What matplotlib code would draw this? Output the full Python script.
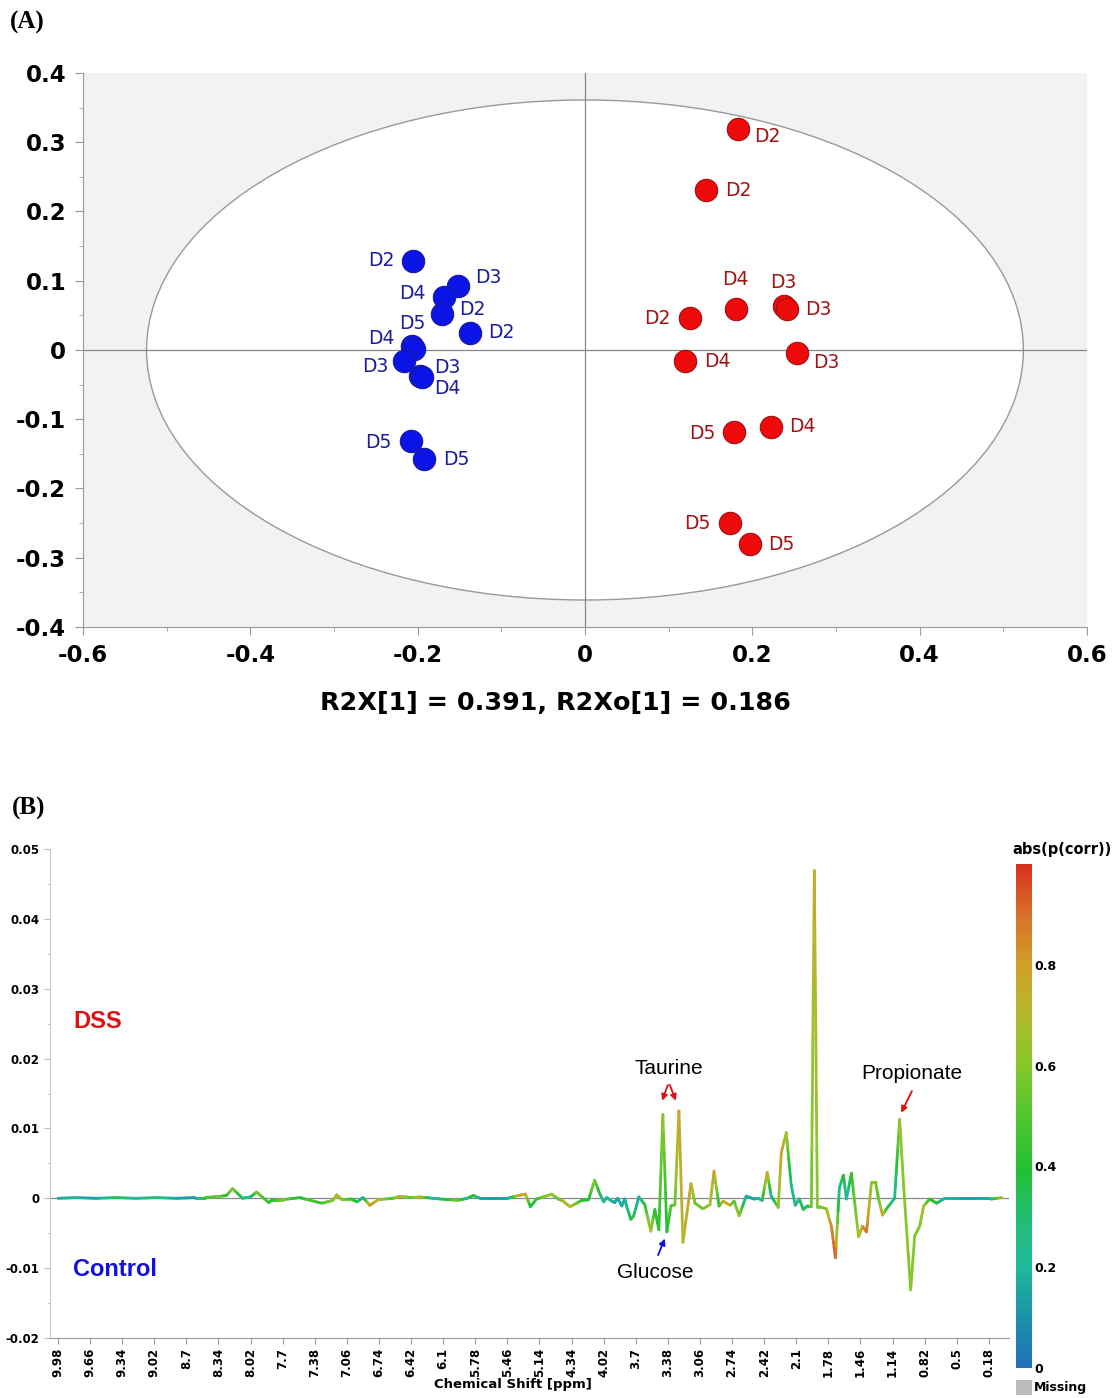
import numpy as np
import matplotlib
matplotlib.use('Agg')
import matplotlib.pyplot as plt
from matplotlib.patches import Ellipse, Rectangle
from matplotlib.collections import LineCollection
from matplotlib.colors import LinearSegmentedColormap, Normalize
from matplotlib.cm import ScalarMappable
from matplotlib.ticker import FuncFormatter, MultipleLocator

# =============================================================================
# (A) OPLS-DA score plot
# =============================================================================
ctrl_t1 = [-0.205, -0.152, -0.169, -0.171, -0.138, -0.207, -0.204, -0.216, -0.197, -0.195, -0.208, -0.192]
ctrl_to = [0.129, 0.092, 0.077, 0.052, 0.025, 0.006, 0.002, -0.016, -0.037, -0.039, -0.132, -0.158]
ctrl_lab = ['D2', 'D3', 'D4', 'D2', 'D2', 'D5', 'D4', 'D3', 'D3', 'D4', 'D5', 'D5']
ctrl_lab_xy = [(-0.243, 0.129), (-0.115, 0.104), (-0.206, 0.082), (-0.135, 0.059),
               (-0.100, 0.025), (-0.206, 0.038), (-0.243, 0.017), (-0.251, -0.024),
               (-0.165, -0.026), (-0.165, -0.056), (-0.247, -0.133), (-0.154, -0.158)]

dss_t1 = [0.183, 0.145, 0.126, 0.180, 0.238, 0.242, 0.119, 0.253, 0.222, 0.178, 0.173, 0.197]
dss_to = [0.319, 0.231, 0.046, 0.059, 0.064, 0.059, -0.016, -0.005, -0.111, -0.119, -0.250, -0.280]
dss_lab = ['D2', 'D2', 'D2', 'D4', 'D3', 'D3', 'D4', 'D3', 'D4', 'D5', 'D5', 'D5']
dss_lab_xy = [(0.218, 0.308), (0.183, 0.230), (0.086, 0.045), (0.180, 0.102),
              (0.237, 0.097), (0.279, 0.059), (0.158, -0.017), (0.289, -0.018),
              (0.260, -0.111), (0.140, -0.120), (0.134, -0.251), (0.235, -0.281)]

ellipse_a, ellipse_b = 0.524, 0.361
r2x_text = 'R2X[1] = 0.391, R2Xo[1] = 0.186'

# =============================================================================
# (B) S-line loading plot
# =============================================================================
tick_ppm = np.array([9.98, 9.66, 9.34, 9.02, 8.7, 8.34, 8.02, 7.7, 7.38, 7.06, 6.74, 6.42,
                     6.1, 5.78, 5.46, 5.14, 4.34, 4.02, 3.7, 3.38, 3.06, 2.74, 2.42, 2.1,
                     1.78, 1.46, 1.14, 0.82, 0.5, 0.18])
tick_labels = ['9.98', '9.66', '9.34', '9.02', '8.7', '8.34', '8.02', '7.7', '7.38', '7.06',
               '6.74', '6.42', '6.1', '5.78', '5.46', '5.14', '4.34', '4.02', '3.7', '3.38',
               '3.06', '2.74', '2.42', '2.1', '1.78', '1.46', '1.14', '0.82', '0.5', '0.18']

ppm = [9.98, 9.80, 9.60, 9.40, 9.20, 9.00, 8.80, 8.60, 8.49, 8.32, 8.26, 8.20, 8.10, 8.02,
       7.96, 7.84, 7.80, 7.70, 7.53, 7.45, 7.31, 7.20, 7.16, 7.11, 7.02, 6.96, 6.90, 6.83,
       6.75, 6.60, 6.53, 6.42, 6.33, 6.20, 6.13, 5.96, 5.86, 5.80, 5.73, 5.60, 5.46, 5.43,
       5.35, 5.28, 5.23, 5.17, 5.04, 4.84, 4.67, 4.55, 4.38, 4.29, 4.24, 4.17, 4.11, 4.06,
       4.02, 3.99, 3.94, 3.91, 3.88, 3.84, 3.81, 3.79, 3.75, 3.72, 3.67, 3.61, 3.55, 3.51,
       3.47, 3.43, 3.39, 3.35, 3.31, 3.27, 3.23, 3.15, 3.11, 3.03, 2.96, 2.92, 2.87, 2.83,
       2.76, 2.72, 2.67, 2.60, 2.52, 2.48, 2.44, 2.39, 2.35, 2.28, 2.25, 2.20, 2.15, 2.11,
       2.07, 2.03, 1.99, 1.95, 1.92, 1.89, 1.87, 1.80, 1.75, 1.71, 1.67, 1.63, 1.60, 1.55,
       1.48, 1.44, 1.40, 1.35, 1.31, 1.28, 1.24, 1.20, 1.12, 1.07, 1.03, 0.96, 0.92, 0.87,
       0.83, 0.77, 0.70, 0.62, 0.40, 0.20, 0.15, 0.05]
loading = [0.0, 0.0001, 0.0, 0.0001, 0.0, 0.0001, 0.0, 0.0001, 0.0001, 0.0003, 0.0004, 0.0014,
           0.0, 0.0002, 0.0009, -0.0006, -0.0002, -0.0002, 0.0001, -0.0002, -0.0007, -0.0003,
           0.0005, -0.0002, -0.0001, -0.0005, 0.0001, -0.0010, -0.0002, 0.0, 0.0003, 0.0001,
           0.0002, 0.0, -0.0001, -0.0003, 0.0, 0.0004, 0.0, 0.0, 0.0, 0.0001,
           0.0004, 0.0006, -0.0012, -0.0001, 0.0002, 0.0006, -0.0001, -0.0004, -0.0012, -0.0007,
           -0.0003, -0.0002, 0.0026, 0.0007, -0.0005, 0.0001, -0.0004, -0.0006, 0.0, -0.0011,
           -0.0001, -0.0012, -0.0030, -0.0025, 0.0002, -0.0009, -0.0047, -0.0016, -0.0045, 0.0120,
           -0.0048, -0.0011, -0.0009, 0.0125, -0.0063, 0.0021, -0.0007, -0.0015, -0.0009, 0.0039,
           -0.0011, -0.0004, -0.0010, -0.0004, -0.0025, 0.0003, -0.0001, 0.0, -0.0003, 0.0037,
           0.0003, -0.0013, 0.0065, 0.0094, 0.0018, -0.0010, -0.0001, -0.0016, -0.0011, -0.0012,
           0.0469, -0.0012, -0.0012, -0.0015, -0.0040, -0.0085, 0.0015, 0.0033, -0.0001, 0.0036,
           -0.0055, -0.0040, -0.0048, 0.0023, 0.0023, -0.0001, -0.0024, -0.0015, 0.0, 0.0113,
           0.0018, -0.0131, -0.0054, -0.0040, -0.0011, -0.0001, -0.0007, 0.0, 0.0, 0.0,
           -0.0001, 0.0001]
pcorr = [0.15, 0.2, 0.12, 0.35, 0.2, 0.3, 0.15, 0.12, 0.45, 0.55, 0.4, 0.62, 0.3, 0.2,
         0.55, 0.45, 0.4, 0.6, 0.35, 0.5, 0.45, 0.6, 0.7, 0.6, 0.45, 0.4, 0.15, 0.85,
         0.7, 0.45, 0.75, 0.5, 0.7, 0.2, 0.25, 0.6, 0.2, 0.45, 0.15, 0.12, 0.15, 0.2,
         0.75, 0.8, 0.35, 0.45, 0.55, 0.65, 0.5, 0.65, 0.75, 0.55, 0.45, 0.35, 0.62, 0.35,
         0.2, 0.2, 0.2, 0.15, 0.15, 0.18, 0.15, 0.25, 0.38, 0.35, 0.15, 0.4, 0.7, 0.42,
         0.42, 0.62, 0.38, 0.5, 0.55, 0.78, 0.72, 0.78, 0.55, 0.55, 0.65, 0.8, 0.38, 0.75,
         0.75, 0.5, 0.65, 0.2, 0.12, 0.2, 0.3, 0.8, 0.2, 0.6, 0.8, 0.68, 0.25, 0.25,
         0.25, 0.4, 0.25, 0.55, 0.75, 0.6, 0.55, 0.6, 0.85, 0.95, 0.2, 0.42, 0.18, 0.42,
         0.65, 0.8, 0.9, 0.6, 0.6, 0.5, 0.8, 0.45, 0.2, 0.65, 0.6, 0.6, 0.6, 0.6,
         0.7, 0.42, 0.4, 0.18, 0.12, 0.15, 0.2, 0.75]

cmap = LinearSegmentedColormap.from_list('pcorr', [
    (0.0, '#2070b8'), (0.1, '#1a92aa'), (0.2, '#20b89a'), (0.3, '#20be72'),
    (0.4, '#22c030'), (0.5, '#52c62e'), (0.6, '#84c82a'), (0.7, '#b2b82e'),
    (0.8, '#d0a028'), (0.9, '#d87028'), (1.0, '#d83020')])


def ppm_to_pos(p):
    p = np.asarray(p, float)
    pos = np.interp(-p, -tick_ppm, np.arange(len(tick_ppm)))
    tail = p < tick_ppm[-1]
    pos[tail] = len(tick_ppm) - 1 + (tick_ppm[-1] - p[tail]) / 0.32
    return pos


fig = plt.figure(figsize=(11.2, 13.98), dpi=100)

# ---- Panel A ----
axA = fig.add_axes([0.0741, 0.5515, 0.8964, 0.3963])
axA.set_facecolor('#f2f2f2')
axA.add_patch(Ellipse((0, 0), 2 * ellipse_a, 2 * ellipse_b, facecolor='white',
                      edgecolor='#999999', lw=1.0, zorder=0.5))
axA.axhline(0, color='#888888', lw=0.9, zorder=1)
axA.axvline(0, color='#888888', lw=0.9, zorder=1)
axA.scatter(ctrl_t1, ctrl_to, s=260, color='#0a14e6', edgecolor='#1a1a9a', lw=0.8, zorder=3)
axA.scatter(dss_t1, dss_to, s=260, color='#ee0a0a', edgecolor='#a01010', lw=0.8, zorder=3)
for lab, (lx, ly) in zip(ctrl_lab, ctrl_lab_xy):
    axA.text(lx, ly, lab, color='#1c1c9c', fontsize=13.5, ha='center', va='center', zorder=4)
for lab, (lx, ly) in zip(dss_lab, dss_lab_xy):
    axA.text(lx, ly, lab, color='#a01414', fontsize=13.5, ha='center', va='center', zorder=4)

axA.set_xlim(-0.6, 0.6)
axA.set_ylim(-0.4, 0.4)
axA.set_xticks(np.arange(-0.6, 0.61, 0.2))
axA.set_yticks(np.arange(-0.4, 0.41, 0.1))
axA.xaxis.set_minor_locator(MultipleLocator(0.1))
axA.yaxis.set_minor_locator(MultipleLocator(0.05))
fmt = FuncFormatter(lambda v, p: '%g' % round(v, 2) if abs(v) > 1e-9 else '0')
axA.xaxis.set_major_formatter(fmt)
axA.yaxis.set_major_formatter(fmt)
for s in ['top', 'right']:
    axA.spines[s].set_visible(False)
for s in ['left', 'bottom']:
    axA.spines[s].set_color('#999999')
axA.tick_params(which='major', length=6, color='#999999', labelsize=16.5, pad=6)
axA.tick_params(which='minor', length=3, color='#999999')
for t in axA.get_xticklabels() + axA.get_yticklabels():
    t.set_fontweight('bold')
fig.text(0.496, 0.497, r2x_text, ha='center', va='center', fontsize=18.3, fontweight='bold')
fig.text(0.009, 0.984, '(A)', family='Liberation Serif', fontsize=18, fontweight='bold',
         ha='left', va='center')

# ---- Panel B ----
axB = fig.add_axes([0.0446, 0.0429, 0.8564, 0.3498])
x = ppm_to_pos(ppm)
y = np.array(loading)
c = np.array(pcorr)
segs, cols = [], []
for i in range(len(x) - 1):
    for k in range(6):
        f0, f1 = k / 6, (k + 1) / 6
        segs.append([(x[i] + (x[i + 1] - x[i]) * f0, y[i] + (y[i + 1] - y[i]) * f0),
                     (x[i] + (x[i + 1] - x[i]) * f1, y[i] + (y[i + 1] - y[i]) * f1)])
        cols.append(c[i] + (c[i + 1] - c[i]) * (f0 + f1) / 2)
lc = LineCollection(segs, colors=cmap(np.array(cols)), linewidths=2.0, capstyle='round', zorder=3)
axB.add_collection(lc)
axB.axhline(0, color='#888888', lw=0.9, zorder=2)

axB.set_xlim(-0.25, 29.63)
axB.set_ylim(-0.02, 0.05)
axB.set_xticks(np.arange(len(tick_labels)))
axB.set_xticklabels(tick_labels, rotation=90, fontsize=8.5, fontweight='bold')
axB.set_yticks(np.arange(-0.02, 0.051, 0.01))
axB.yaxis.set_minor_locator(MultipleLocator(0.005))
axB.yaxis.set_major_formatter(FuncFormatter(lambda v, p: '%g' % round(v, 3) if abs(v) > 1e-9 else '0'))
for t in axB.get_yticklabels():
    t.set_fontweight('bold')
axB.tick_params(axis='y', labelsize=8.5, length=4, color='#bbbbbb')
axB.tick_params(axis='y', which='minor', length=2, color='#bbbbbb')
axB.tick_params(axis='x', length=4, color='#999999', pad=3)
for s in ['top', 'right']:
    axB.spines[s].set_visible(False)
axB.spines['left'].set_color('#cccccc')
axB.spines['bottom'].set_color('#999999')

axB.text(0.47, 0.0253, 'DSS', color='#e01010', family='Liberation Sans', fontsize=17,
         fontweight='bold', va='center')
axB.text(0.47, -0.0102, 'Control', color='#1010e0', family='Liberation Sans', fontsize=17,
         fontweight='bold', va='center')

ann = dict(family='Liberation Sans', fontsize=15, ha='center', va='center')
axB.text(19.03, 0.0186, 'Taurine', **ann)
axB.annotate('', xy=(18.79, 0.0136), xytext=(19.03, 0.0166),
             arrowprops=dict(arrowstyle='-|>', color='#e01010', lw=1.3, mutation_scale=9))
axB.annotate('', xy=(19.28, 0.0136), xytext=(19.03, 0.0166),
             arrowprops=dict(arrowstyle='-|>', color='#e01010', lw=1.3, mutation_scale=9))
axB.text(26.6, 0.0179, 'Propionate', **ann)
axB.annotate('', xy=(26.23, 0.0119), xytext=(26.64, 0.0157),
             arrowprops=dict(arrowstyle='-|>', color='#e01010', lw=1.3, mutation_scale=9))
axB.text(18.6, -0.0106, 'Glucose', **ann)
axB.annotate('', xy=(18.94, -0.0054), xytext=(18.66, -0.0085),
             arrowprops=dict(arrowstyle='-|>', color='#1010e0', lw=1.3, mutation_scale=9))

fig.text(0.458, 0.0093, 'Chemical Shift [ppm]', ha='center', va='center', fontsize=9.5,
         fontweight='bold')
fig.text(0.011, 0.422, '(B)', family='Liberation Serif', fontsize=18, fontweight='bold',
         ha='left', va='center')

# colorbar
cax = fig.add_axes([0.907, 0.0215, 0.0143, 0.3605])
cb = fig.colorbar(ScalarMappable(norm=Normalize(0, 1), cmap=cmap), cax=cax)
cb.outline.set_visible(False)
cb.set_ticks([0, 0.2, 0.4, 0.6, 0.8])
cb.set_ticklabels(['0', '0.2', '0.4', '0.6', '0.8'])
cax.tick_params(length=0, labelsize=9, pad=2)
for t in cax.get_yticklabels():
    t.set_fontweight('bold')
fig.text(0.904, 0.3927, 'abs(p(corr))', ha='left', va='center', fontsize=10.5, fontweight='bold')
fig.patches.append(Rectangle((0.907, 0.0021), 0.0143, 0.0107, facecolor='#bbbbbb',
                             transform=fig.transFigure, figure=fig))
fig.text(0.923, 0.0072, 'Missing', ha='left', va='center', fontsize=9, fontweight='bold')

fig.savefig('out.png', dpi=100)
